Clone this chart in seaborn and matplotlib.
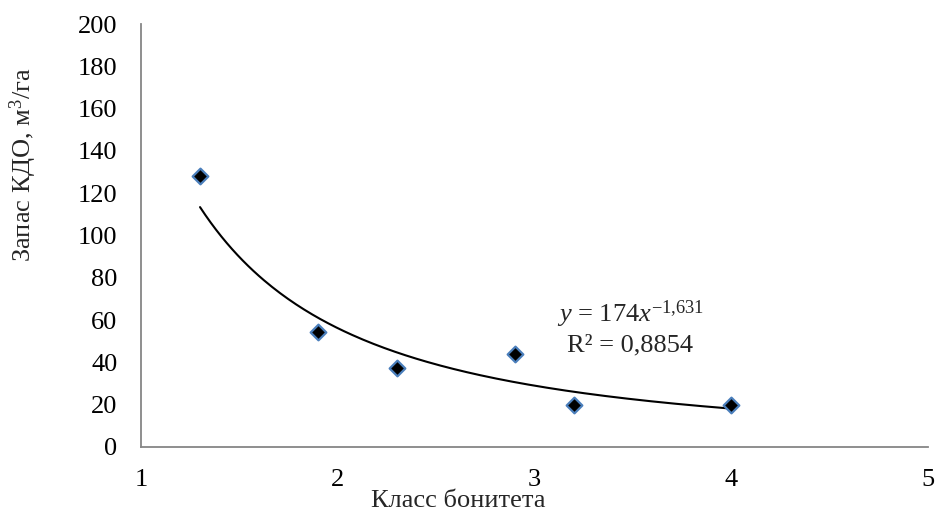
import numpy as np
import pandas as pd
import matplotlib
matplotlib.use("Agg")
import matplotlib.pyplot as plt
import seaborn as sns

# data
site_class = [1.3, 1.9, 2.3, 2.9, 3.2, 4.0]
stock = [128, 54.5, 37.5, 44, 20, 20]
# power trendline from the chart label: y = a * x^b
coef_a = 174
coef_b = -1.631
r2 = "0,8854"

sns.set_style("white")
plt.rcParams['font.family'] = ['Liberation Serif', 'DejaVu Serif']
plt.rcParams['mathtext.fontset'] = 'custom'
plt.rcParams['mathtext.rm'] = 'Liberation Serif'
plt.rcParams['mathtext.it'] = 'Liberation Serif:italic'

df = pd.DataFrame({'x': site_class, 'y': stock})
xs = np.linspace(min(site_class), max(site_class), 200)
trend = pd.DataFrame({'x': xs, 'y': coef_a * xs ** coef_b})

fig = plt.figure(figsize=(9.35, 5.14), dpi=100)
ax = fig.add_axes([0.1508, 0.1304, 0.8417, 0.8229])

sns.lineplot(data=trend, x='x', y='y', ax=ax, color='black', linewidth=1.5)
sns.scatterplot(data=df, x='x', y='y', ax=ax, marker='D', s=64,
                color='black', edgecolor='#4a7ebb', linewidth=1.6, zorder=3)

ax.set_xlim(1, 5)
ax.set_ylim(0, 200)
ax.set_xticks([1, 2, 3, 4, 5])
ax.set_yticks(range(0, 201, 20))

for side in ['top', 'right']:
    ax.spines[side].set_visible(False)
for side in ['left', 'bottom']:
    ax.spines[side].set_color('#868686')
    ax.spines[side].set_linewidth(1.3)
ax.tick_params(axis='both', direction='out', length=6, width=1.3,
               color='#868686', labelsize=19, labelcolor='black')
ax.tick_params(axis='y', pad=11)
ax.tick_params(axis='x', pad=10)

ax.set_xlabel('Класс бонитета', fontsize=19)
ax.xaxis.set_label_coords(0.403, -0.101)
ax.set_ylabel('Запас КДО, м$^3$/га', fontsize=19)
ax.yaxis.set_label_coords(-0.149, 0.667)
ax.yaxis.label.set_va('center')

ax.text(3.487, 59.2, r'$\mathit{y}$ = 174$\mathit{x}^{\mathrm{-1{,}631}}$'.replace('-', '\u2212'),
        fontsize=19, ha='center', va='baseline')
ax.text(3.487, 45.1, 'R² = ' + r2, fontsize=19, ha='center', va='baseline')

fig.savefig('out.png', dpi=100)
